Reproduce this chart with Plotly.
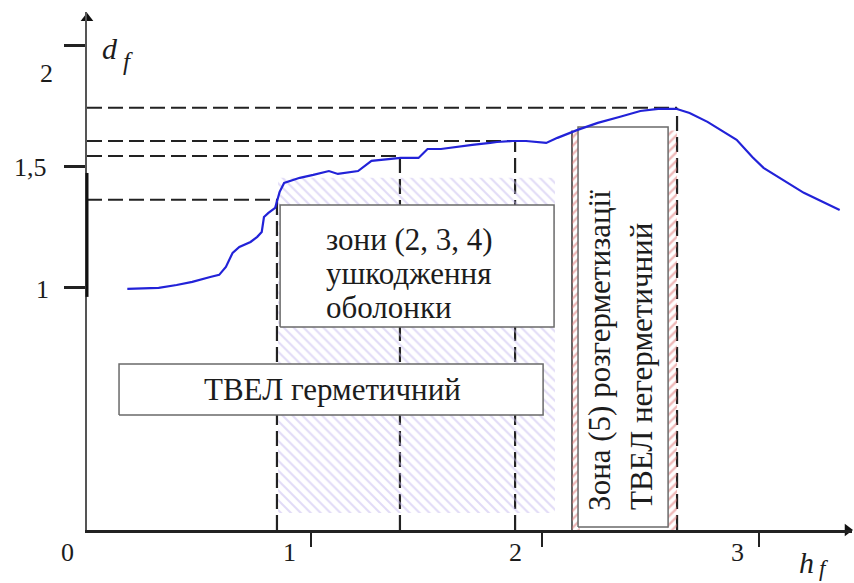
import plotly.graph_objects as go

# ---- data ----
h_curve = [0.18, 0.32, 0.40, 0.47, 0.55, 0.59, 0.62, 0.65, 0.68, 0.73, 0.76, 0.78, 0.79, 0.81,
           0.84, 0.85, 0.86, 0.88, 0.92, 0.95, 1.01, 1.04, 1.08, 1.12, 1.17, 1.21, 1.27, 1.31,
           1.40, 1.48, 1.52, 1.58, 1.65, 1.72, 1.80, 1.83, 1.90, 1.96, 2.05, 2.10, 2.19, 2.28,
           2.38, 2.47, 2.55, 2.63, 2.69, 2.77, 2.90, 2.97, 3.02, 3.09, 3.20, 3.36]
d_curve = [0.996, 1.000, 1.012, 1.025, 1.045, 1.054, 1.087, 1.145, 1.169, 1.190, 1.211, 1.231, 1.293, 1.310,
           1.331, 1.364, 1.397, 1.434, 1.446, 1.455, 1.467, 1.475, 1.483, 1.471, 1.479, 1.483, 1.525, 1.529,
           1.537, 1.537, 1.574, 1.574, 1.583, 1.591, 1.599, 1.603, 1.607, 1.607, 1.599, 1.620, 1.653, 1.682,
           1.707, 1.731, 1.740, 1.740, 1.723, 1.686, 1.612, 1.541, 1.496, 1.455, 1.393, 1.322]

# zone boundaries (vertical dashed lines) and the matching d_f levels (horizontal dashed lines)
level_h = [0.848, 1.397, 1.911, 2.634]
level_d = [1.364, 1.545, 1.607, 1.744]
zone5_left_h = 2.165
zone5_top_d = 1.650

x_tick_pos = [1.0, 2.03, 3.0]
y_tick_pos = [1.0, 1.5, 2.0]
x_tick_labels = ["0", "1", "2", "3"]
x_label_pos = [-0.085, 0.906, 1.911, 2.906]
y_tick_labels = ["2", "1,5", "1"]
y_label_pos = [1.884, 1.496, 0.992]
y_label_x = [-0.179, -0.254, -0.200]

XMAX, YMAX = 3.415, 2.140
SERIF = "Liberation Serif, Times New Roman, serif"
TXT = "#1c1c1c"

fig = go.Figure()

def rect(x0, x1, y0, y1):
    return [x0, x1, x1, x0, x0], [y0, y0, y1, y1, y0]

# purple hatched area (damage zones 2-4)
xs, ys = rect(0.853, 2.089, 0.070, 1.455)
fig.add_trace(go.Scatter(x=xs, y=ys, fill="toself", mode="lines", line=dict(width=0),
                         fillcolor="rgba(0,0,0,0)",
                         fillpattern=dict(shape="\\", fgcolor="#c4b8ee", size=7, solidity=0.3),
                         hoverinfo="skip"))
# red hatched stripes (zone 5)
for a, b in [(zone5_left_h, 2.200), (2.590, level_h[3])]:
    xs, ys = rect(a, b, 0.0, zone5_top_d)
    fig.add_trace(go.Scatter(x=xs, y=ys, fill="toself", mode="lines", line=dict(width=0),
                             fillcolor="rgba(0,0,0,0)",
                             fillpattern=dict(shape="/", fgcolor="#de6f6f", size=6, solidity=0.4),
                             hoverinfo="skip"))

shapes = []
for hv, dv in zip(level_h, level_d):
    shapes.append(dict(type="line", xref="x", yref="y", x0=0, x1=hv, y0=dv, y1=dv,
                       line=dict(color="#222", width=2, dash="15px,6px"), layer="below"))
    shapes.append(dict(type="line", xref="x", yref="y", x0=hv, x1=hv, y0=0, y1=dv,
                       line=dict(color="#222", width=2.2, dash="15px,6px"), layer="below"))
shapes.append(dict(type="line", xref="x", yref="y", x0=zone5_left_h, x1=zone5_left_h, y0=0, y1=zone5_top_d,
                   line=dict(color="#333", width=1.5), layer="below"))
# thick part of the vertical axis
shapes.append(dict(type="line", xref="paper", yref="paper", x0=0, x1=0,
                   y0=0.963 / YMAX, y1=1.475 / YMAX, line=dict(color="#111", width=3)))

# text boxes (white)
for (x0, x1, y0, y1) in [(0.862, 2.085, 0.839, 1.343), (0.143, 2.036, 0.475, 0.686),
                         (2.192, 2.594, 0.012, 1.665)]:
    xs, ys = rect(x0, x1, y0, y1)
    fig.add_trace(go.Scatter(x=xs, y=ys, fill="toself", mode="lines", fillcolor="white",
                             line=dict(color="#6a6a6a", width=1.5), hoverinfo="skip"))

# the curve
fig.add_trace(go.Scatter(x=h_curve, y=d_curve, mode="lines",
                         line=dict(color="#2222d8", width=2.2), hoverinfo="skip"))

# axis arrowheads
fig.add_trace(go.Scatter(x=[0], y=[2.114], mode="markers", cliponaxis=False,
                         marker=dict(symbol="triangle-up", size=11, color="#111"), hoverinfo="skip"))
fig.add_trace(go.Scatter(x=[3.395], y=[0], mode="markers", cliponaxis=False,
                         marker=dict(symbol="triangle-right", size=11, color="#111"), hoverinfo="skip"))


def pa(text, x, y, size, xanchor="center", **kw):
    """annotation placed in data units but referenced to paper (so it may sit outside the axes)"""
    return dict(x=x / XMAX, y=y / YMAX, xref="paper", yref="paper", text=text, showarrow=False,
                xanchor=xanchor, yanchor="middle", borderpad=0,
                font=dict(family=SERIF, size=size, color=TXT), **kw)


ann = []
for lab, xp in zip(x_tick_labels, x_label_pos):
    ann.append(pa(lab, xp, -0.092, 26))
for lab, yp, xp in zip(y_tick_labels, y_label_pos, y_label_x):
    ann.append(pa(lab, xp, yp, 26))

ann += [
    pa("<i>d</i>", 0.103, 1.99, 30),
    pa("<i>f</i>", 0.183, 1.935, 25),
    pa("<i>h</i>", 3.21, -0.135, 30),
    pa("<i>f</i>", 3.29, -0.160, 23),
    pa("зони (2, 3, 4)", 1.0625, 1.201, 31, xanchor="left"),
    pa("ушкодження", 1.0625, 1.060, 31, xanchor="left"),
    pa("оболонки", 1.0625, 0.920, 31, xanchor="left"),
    pa("ТВЕЛ герметичний", 1.098, 0.579, 31),
    pa("Зона (5) розгерметизації", 2.29, 0.744, 31, textangle=-90),
    pa("ТВЕЛ негерметичний", 2.478, 0.674, 31, textangle=-90),
]

fig.update_layout(
    width=854, height=583, margin=dict(l=87, r=2, t=12, b=53),
    paper_bgcolor="white", plot_bgcolor="white", showlegend=False,
    shapes=shapes, annotations=ann,
    xaxis=dict(range=[0, XMAX], showgrid=False, zeroline=False, showline=True, linecolor="#222",
               linewidth=2.5, ticks="outside", tickvals=x_tick_pos, ticklen=14, tickwidth=2,
               tickcolor="#222", showticklabels=False, fixedrange=True),
    yaxis=dict(range=[0, YMAX], showgrid=False, zeroline=False, showline=True, linecolor="#555",
               linewidth=1.5, ticks="outside", tickvals=y_tick_pos, ticklen=21, tickwidth=2.5,
               tickcolor="#222", showticklabels=False, fixedrange=True),
)

fig.write_html("out.html", config={"displayModeBar": False},
               post_script="document.body.style.margin='0';")
